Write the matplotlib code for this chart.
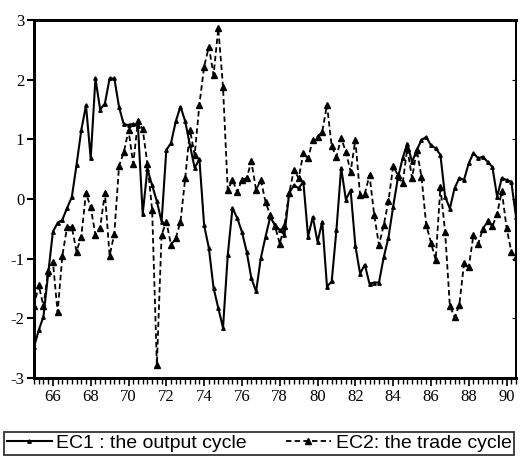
import numpy as np
import matplotlib as mpl

mpl.use('agg')

import matplotlib.pyplot as plt
from matplotlib.ticker import MultipleLocator, FixedLocator

# quarterly observations, 1965Q1 .. 1990Q3
start_year = 1965
ec1 = [-2.48, -2.2, -1.97, -1.25, -0.55, -0.4, -0.35, -0.15, 0.03, 0.57,
       1.15, 1.57, 0.68, 2.02, 1.5, 1.6, 2.02, 2.02, 1.54, 1.25,
       1.24, 1.26, 1.22, -0.25, 0.5, 0.23, -0.04, -0.38, 0.82, 0.94,
       1.3, 1.55, 1.3, 0.9, 0.52, 0.67, -0.44, -0.82, -1.49, -1.83,
       -2.16, -0.94, -0.15, -0.32, -0.55, -0.88, -1.33, -1.55, -0.99, -0.63,
       -0.3, -0.44, -0.52, -0.6, 0.1, 0.23, 0.18, 0.29, -0.63, -0.3,
       -0.72, -0.38, -1.47, -1.38, -0.52, 0.52, -0.01, 0.15, -0.78, -1.25,
       -1.1, -1.42, -1.4, -1.4, -0.98, -0.65, -0.13, 0.35, 0.68, 0.93,
       0.62, 0.82, 0.99, 1.04, 0.9, 0.85, 0.74, 0.04, -0.16, 0.18,
       0.35, 0.32, 0.6, 0.77, 0.68, 0.71, 0.62, 0.54, 0.04, 0.35,
       0.32, 0.29, -0.3]
ec2 = [-1.8, -1.44, -1.8, -1.2, -1.05, -1.9, -0.95, -0.47, -0.47, -0.88,
       -0.63, 0.1, -0.14, -0.6, -0.48, 0.1, -0.95, -0.58, 0.56, 0.78,
       1.15, 0.59, 1.31, 1.17, 0.59, -0.18, -2.78, -0.6, -0.38, -0.77,
       -0.66, -0.38, 0.35, 1.16, 0.74, 1.58, 2.22, 2.55, 2.08, 2.86,
       1.88, 0.15, 0.32, 0.12, 0.32, 0.35, 0.63, 0.15, 0.32, -0.05,
       -0.27, -0.45, -0.75, -0.45, 0.1, 0.49, 0.35, 0.77, 0.68, 0.99,
       1.04, 1.13, 1.58, 0.88, 0.71, 1.02, 0.79, 0.46, 0.99, 0.07,
       0.09, 0.4, -0.27, -0.77, -0.44, -0.04, 0.55, 0.4, 0.26, 0.85,
       0.35, 0.82, 0.37, -0.43, -0.73, -1.02, 0.2, -0.55, -1.79, -1.98,
       -1.78, -1.08, -1.14, -0.6, -0.75, -0.5, -0.37, -0.46, -0.25, 0.13,
       -0.48, -0.88, -0.98]
year_ticks = list(range(1966, 1991, 2))
year_labels = ['66', '68', '70', '72', '74', '76', '78', '80', '82', '84', '86', '88', '90']
y_ticks = [-3, -2, -1, 0, 1, 2, 3]
y_labels = ['-3', '-2', '-1', '0', '1', '2', '3']

t = start_year + np.arange(len(ec1)) / 4.0

fig = plt.figure(figsize=(5.21, 4.57), dpi=100)
ax = fig.add_axes([34/521, 1 - 378/457, 482/521, 358/457])

l1, = ax.plot(t, ec1, color='black', lw=1.5, marker='^', ms=2.5,
              label='EC1 : the output cycle')
l2, = ax.plot(t, ec2, color='black', lw=1.3, ls=(0, (3, 1.8)), marker='^', ms=4.5,
              label='EC2: the trade cycle')

ax.set_xlim(t[0], t[-1])
ax.set_ylim(-3, 3)

ax.xaxis.set_major_locator(FixedLocator(year_ticks))
ax.set_xticklabels(year_labels)
ax.xaxis.set_minor_locator(MultipleLocator(0.25))
ax.set_yticks(y_ticks)
ax.set_yticklabels(y_labels)

for lab in ax.get_xticklabels() + ax.get_yticklabels():
    lab.set_fontfamily('Liberation Serif')
    lab.set_fontsize(12)

ax.tick_params(axis='x', which='major', direction='out', length=6, width=1.2, pad=2)
ax.tick_params(axis='x', which='minor', direction='out', length=4, width=1.0)
ax.tick_params(axis='y', which='major', direction='out', length=5, width=1.5, pad=2)

# small inward marks on the right-hand axis
ax2 = ax.twinx()
ax2.set_ylim(-3, 3)
ax2.set_yticks(y_ticks)
ax2.set_yticklabels([])
ax2.tick_params(axis='y', direction='in', length=3, width=0.8)

for side in ['left', 'bottom', 'top']:
    ax.spines[side].set_linewidth(2.0)
    ax2.spines[side].set_linewidth(2.0)
ax.spines['right'].set_linewidth(1.3)
ax2.spines['right'].set_linewidth(1.3)

leg = fig.legend(handles=[l1, l2], loc='lower left',
                 bbox_to_anchor=(4/521, 2/457), ncol=2,
                 frameon=True, fancybox=False, edgecolor='black',
                 prop={'family': 'Liberation Sans', 'size': 14},
                 handlelength=2.3, handletextpad=0.25, columnspacing=2.0,
                 borderpad=0.15, borderaxespad=0)
leg.get_frame().set_linewidth(1.3)

fig.savefig('out.png', dpi=100)
